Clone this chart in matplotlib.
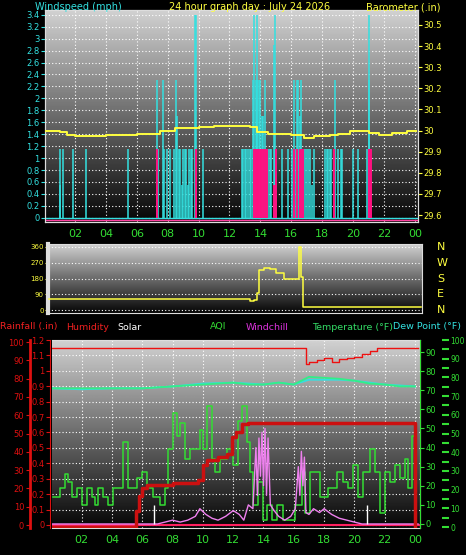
import numpy as np
import matplotlib
matplotlib.use("Agg")
import matplotlib.pyplot as plt

W, H = 466, 555
hours = [2, 4, 6, 8, 10, 12, 14, 16, 18, 20, 22, 24]
hour_labels = ["02", "04", "06", "08", "10", "12", "14", "16", "18", "20", "22", "00"]

wind_t = [1.0, 1.05, 1.25, 1.9, 2.7, 5.45, 7.3, 7.35, 7.7, 7.75, 7.95, 8.15, 8.4, 8.55, 8.6, 8.7, 8.8,
          8.9, 9.0, 9.1, 9.2, 9.3, 9.4, 9.5, 9.6, 9.8, 9.85, 10.3,
          12.8, 12.9, 13.0, 13.1, 13.2, 13.3, 13.4, 13.5, 13.6, 13.7, 13.75, 13.8, 13.9, 14.0, 14.1,
          14.2, 14.3, 14.4, 14.5, 14.6, 14.7, 14.9, 14.95, 15.0, 15.4, 15.8,
          16.05, 16.15, 16.25, 16.35, 16.45, 16.55, 16.65, 16.75, 16.85, 16.95, 17.05, 17.2, 17.35,
          17.5, 18.2, 18.3, 18.4, 18.5, 18.6, 18.8, 19.0, 19.2, 19.25, 20.0, 20.3, 20.9, 21.0, 21.05]
wind_s = [0.55, 1.15, 1.15, 1.15, 1.15, 1.15, 2.3, 1.15, 2.3, 1.15, 1.15, 1.15, 1.15, 2.3, 1.7, 1.15, 1.15,
          0.55, 1.15, 1.15, 1.15, 0.55, 1.15, 1.15, 1.15, 3.4, 3.4, 1.15,
          1.15, 1.15, 1.15, 1.15, 1.15, 1.15, 1.15, 2.3, 3.4, 2.3, 3.4, 2.3, 2.3, 2.3, 1.7,
          1.7, 2.3, 1.15, 1.15, 1.15, 1.15, 2.9, 3.4, 1.15, 1.15, 1.15,
          1.15, 2.3, 1.15, 2.3, 2.3, 1.7, 2.3, 1.15, 1.15, 1.15, 1.15, 1.15, 0.55,
          1.15, 1.15, 1.15, 1.15, 1.15, 1.15, 2.3, 1.15, 1.15, 1.15, 1.15, 1.15, 1.15, 3.4, 2.3]
gust_t = [7.33, 9.85, 13.6, 13.7, 13.75, 13.85, 13.95, 14.05, 14.15, 14.3, 14.45, 14.9, 15.0,
          16.2, 16.35, 16.55, 16.65, 16.75, 18.75, 21.05, 21.1, 21.15]
gust_s = [1.15, 1.15, 1.15, 1.15, 1.15, 1.15, 1.15, 1.15, 1.15, 1.15, 1.15, 0.55, 1.15,
          1.15, 1.15, 1.15, 1.15, 1.15, 1.15, 1.15, 1.15, 1.15]

baro_t = [0.1, 1.0, 1.5, 2.0, 4.0, 6.0, 7.5, 8.5, 10.0, 11.0, 12.0, 13.3, 13.8, 14.5, 16.0, 16.8,
          17.5, 18.5, 19.0, 19.8, 20.5, 21.0, 21.7, 22.5, 23.5, 24.1]
baro_v = [30.0, 29.995, 29.98, 29.975, 29.98, 29.985, 30.0, 30.01, 30.015, 30.02, 30.02, 30.015, 29.995,
          29.985, 29.98, 29.965, 29.975, 29.98, 29.985, 30.0, 30.0, 29.99, 29.98, 29.99, 30.0, 30.0]

dir_t = [0.3, 13.3, 13.6, 13.75, 13.9, 14.2, 14.6, 15.0, 15.5, 16.4, 16.5, 16.6, 16.75, 18.8, 24.4]
dir_v = [65, 50, 55, 100, 230, 240, 235, 210, 175, 175, 360, 190, 20, 15, 15]

rain_t = [0.05, 5.5, 5.6, 5.8, 6.0, 6.3, 8.0, 9.7, 10.0, 10.3, 11.0, 11.6, 11.9, 12.2, 12.6, 13.0, 23.9, 24.0]
rain_v = [0.0, 0.0, 0.1, 0.2, 0.25, 0.27, 0.28, 0.3, 0.4, 0.43, 0.45, 0.47, 0.58, 0.61, 0.66, 0.67, 0.67, 0.0]

hum_t = [0.05, 16.3, 16.8, 17.0, 17.5, 18.0, 18.5, 19.0, 19.5, 20.0, 20.5, 21.0, 21.5, 24.2]
hum_v = [97, 97, 88, 89, 90, 91.5, 89, 90.5, 91, 92, 93.5, 95, 96.5, 97]

temp_t = [0.05, 2.0, 4.0, 6.0, 8.0, 10.0, 12.0, 13.0, 14.0, 15.0, 16.0, 17.0, 18.0, 19.0, 20.0, 21.0, 22.0, 23.0, 24.0]
temp_v = [71, 71, 71, 71, 72, 73, 74, 73, 73, 74, 73, 77, 76.5, 76, 75, 73.5, 73, 72, 72]
dew_v = [71, 70.5, 71, 71, 72, 73.5, 74, 73.5, 73, 74, 73, 75.5, 75.5, 75.5, 75, 74, 73, 72.5, 72]

aqi_t = [0.11, 0.55, 0.89, 1.1, 1.34, 1.67, 2.0, 2.33, 2.66, 2.88, 3.1, 3.43, 3.76, 4.09, 4.75, 5.08,
         5.63, 5.96, 6.29, 6.73, 7.17, 7.5, 7.72, 8.05, 8.27, 8.49, 8.82, 9.15, 9.81, 10.03, 10.25,
         10.58, 10.8, 11.13, 11.57, 12.01, 12.34, 12.56, 12.89, 13.11, 13.33, 13.66, 13.99, 14.21,
         14.54, 14.87, 15.31, 16.08, 16.52, 16.74, 17.07, 17.73, 18.28, 18.83, 19.27, 19.6, 19.93,
         20.26, 20.59, 21.03, 21.36, 21.69, 22.02, 22.35, 22.68, 23.01, 23.34, 23.56, 23.78, 24.0]
aqi_v = [14, 19, 26, 22, 14, 19, 10, 19, 14, 10, 19, 14, 10, 19, 43, 19,
         24, 27, 19, 14, 10, 19, 39, 58, 46, 53, 34, 39, 49, 39, 62,
         34, 27, 34, 39, 31, 54, 62, 43, 27, 10, 22, 2, 10,
         2, 10, 2, 10, 27, 6, 27, 14, 19, 27, 22, 19, 31,
         14, 27, 39, 27, 6, 27, 22, 31, 24, 34, 19, 46, 27]

pink_t = [0.05, 7.0, 8.0, 8.5, 9.0, 9.5, 9.8, 10.2, 10.6, 11.0, 11.5, 12.0, 12.4, 12.7, 13.0, 13.3,
          13.5, 13.6, 13.7, 13.8, 13.9, 14.0, 14.1, 14.2, 14.3, 14.45, 14.7, 15.0, 15.4, 15.8, 16.1,
          16.3, 16.4, 16.5, 16.6, 16.7, 16.8, 17.0, 17.3, 17.7, 18.0, 18.5, 19.0, 19.5, 20.0, 20.5, 24.2]
pink_v = [0, 0, 2, 1, 2, 4, 8, 5, 3, 2, 4, 7, 5, 2, 10, 8,
          40, 15, 45, 25, 48, 20, 50, 15, 45, 10, 7, 4, 2, 4, 8,
          30, 15, 38, 20, 35, 6, 5, 8, 6, 8, 5, 3, 2, 1, 0, 0]

fig = plt.figure(figsize=(W / 100, H / 100), dpi=100, facecolor="black")

def rect(x0, y0, x1, y1):
    return [x0 / W, 1 - y1 / H, (x1 - x0) / W, (y1 - y0) / H]

grad = np.linspace(0.82, 0.02, 256).reshape(-1, 1)

def background(ax):
    ax.set_facecolor("black")
    ax.imshow(grad, cmap="gray", vmin=0, vmax=1, aspect="auto", extent=[0, 1, 0, 1],
              transform=ax.transAxes, zorder=0)

def style(ax, col_left):
    ax.grid(True, color="white", ls=(0, (1, 2)), lw=0.8)
    for s in ax.spines.values():
        s.set_color("#dddddd")
    ax.tick_params(axis="x", bottom=False, labelbottom=False)
    ax.tick_params(axis="y", colors=col_left, labelsize=6, length=3, pad=1)

CYAN = "#33e0e0"
YEL = "#ffff40"
GRN = "#33dd33"

# ---------- top panel ----------
ax1 = fig.add_axes(rect(45, 10, 418, 222))
background(ax1)
ax1.set_xlim(0.06, 24.2)
ax1.set_ylim(-0.07, 3.48)
ax1.set_yticks(np.round(np.arange(0, 3.41, 0.2), 1))
ax1.set_yticklabels(["0", "0.2", "0.4", "0.6", "0.8", "1", "1.2", "1.4", "1.6", "1.8", "2", "2.2",
                     "2.4", "2.6", "2.8", "3", "3.2", "3.4"])
ax1.set_xticks(hours)
style(ax1, CYAN)
ax1.vlines(wind_t, 0, wind_s, color=CYAN, lw=1.1, zorder=3)
ax1.vlines(gust_t, 0, gust_s, color="#ff1080", lw=1.4, zorder=4)
ax1.axhline(0, color=CYAN, lw=1, zorder=3)
ax1.axhline(-0.04, color="#ff40a0", lw=1, zorder=3)
ax1b = ax1.twinx()
ax1b.set_ylim(29.567, 30.571)
ax1b.set_yticks([29.6, 29.7, 29.8, 29.9, 30.0, 30.1, 30.2, 30.3, 30.4, 30.5])
ax1b.set_yticklabels(["29.6", "29.7", "29.8", "29.9", "30", "30.1", "30.2", "30.3", "30.4", "30.5"])
ax1b.tick_params(axis="y", colors=YEL, labelsize=6, length=3, pad=1)
for s in ax1b.spines.values():
    s.set_color("#dddddd")
ax1b.step(baro_t, baro_v, where="post", color=YEL, lw=1.4, zorder=5)

fig.text(35 / W, 1 - 7 / H, "Windspeed (mph)", color=CYAN, fontsize=7, va="center")
fig.text(250 / W, 1 - 7 / H, "24 hour graph day : July 24 2026", color=YEL, fontsize=7,
         va="center", ha="center")
fig.text(440 / W, 1 - 7 / H, "Barometer (.in)", color=YEL, fontsize=7, va="center", ha="right")

for h, lab in zip(hours, hour_labels):
    x = 75 + (h - 2) * 15.45
    fig.text(x / W, 1 - 234 / H, lab, color=GRN, fontsize=8, ha="center", va="center")

# ---------- direction panel ----------
ax2 = fig.add_axes(rect(48, 244, 422, 313))
background(ax2)
ax2.set_xlim(0.25, 24.46)
ax2.set_ylim(-17, 377)
ax2.set_yticks([0, 90, 180, 270, 360])
ax2.set_xticks([])
ax2.grid(True, axis="y", color="white", ls=(0, (1, 2)), lw=0.8)
for s in ax2.spines.values():
    s.set_color("#dddddd")
ax2.spines["left"].set_linewidth(3)
ax2.tick_params(axis="y", colors=YEL, labelsize=5, length=2, pad=1)
ax2.step(dir_t, dir_v, where="post", color=YEL, lw=1.1, zorder=3)
for lab, v in zip(["N", "W", "S", "E", "N"], [360, 270, 180, 90, 0]):
    y = 310 - v / 90 * 15.75
    fig.text(437 / W, 1 - y / H, lab, color=YEL, fontsize=8, ha="left", va="center")

# ---------- legend row ----------
legend = [("Rainfall (.in)", "#ee2020", 0), ("Humidity", "#ee2020", 66), ("Solar", "white", 117),
          ("AQI", GRN, 210), ("Windchill", "#dd33dd", 246), ("Temperature (°F)", "#33dd66", 312),
          ("Dew Point (°F)", CYAN, 393)]
for lab, c, x in legend:
    fig.text(x / W, 1 - 327 / H, lab, color=c, fontsize=6.8, va="center")

# ---------- bottom panel ----------
ax3 = fig.add_axes(rect(52, 340, 420, 528))
background(ax3)
ax3.set_xlim(0.04, 24.33)
ax3.set_ylim(-0.02, 1.2)
ax3.set_xticks(hours)
ax3.set_yticks(np.round(np.arange(0, 1.21, 0.1), 1))
ax3.set_yticklabels(["0", "0.1", "0.2", "0.3", "0.4", "0.5", "0.6", "0.7", "0.8", "0.9", "1", "1.1", "1.2"])
style(ax3, "#dd1010")
ax3.spines["left"].set_color("#dd1010")
ax3.spines["left"].set_position(("outward", 1.5))

axh = ax3.twinx()
axh.set_ylim(-1.6, 101.1)
axh.yaxis.set_ticks_position("left")
axh.yaxis.set_label_position("left")
axh.spines["left"].set_position(("outward", 16))
axh.spines["left"].set_color("#dd1010")
axh.spines["left"].set_linewidth(2)
for s in ["right", "top", "bottom"]:
    axh.spines[s].set_visible(False)
axh.set_yticks(range(0, 101, 10))
axh.tick_params(axis="y", colors="#dd1010", labelsize=6, length=3, pad=1)

axt = ax3.twinx()
axt.set_ylim(-2.1, 96.3)
axt.set_yticks(range(0, 91, 10))
axt.tick_params(axis="y", colors=GRN, labelsize=6, length=3, pad=1)
for s in axt.spines.values():
    s.set_visible(False)
axt.spines["right"].set_visible(True)
axt.spines["right"].set_color(GRN)

axf = ax3.twinx()
axf.set_ylim(-0.5, 100)
axf.spines["right"].set_position(("outward", 16))
for s in axf.spines.values():
    s.set_visible(False)
axf.set_yticks(range(0, 101, 10))
axf.set_yticks(range(0, 101, 5), minor=True)
axf.tick_params(axis="y", which="both", colors=GRN, labelsize=5.5, length=5, width=1.5, pad=1)

axt.step(aqi_t, aqi_v, where="post", color=GRN, lw=1.1, zorder=3)
axt.plot(pink_t, pink_v, color="#ee80ee", lw=1, zorder=4)
axt.plot(temp_t, dew_v, color=CYAN, lw=1.3, zorder=4)
axt.plot(temp_t, temp_v, color="#33ee88", lw=1.3, zorder=4)
axt.vlines([6.75, 20.85], 0, 10, color="white", lw=1, zorder=4)
axh.step(hum_t, hum_v, where="post", color="#ee1010", lw=1, zorder=5)
axf.step(rain_t, [v / 1.2 * 100 for v in rain_v], where="post", color="#cc1010", lw=2.5, zorder=6)
ax3.axhline(0, color="#ff2060", lw=1.5, zorder=5)

for h, lab in zip(hours, hour_labels):
    x = 81.7 + (h - 2) * 15.15
    fig.text(x / W, 1 - 540 / H, lab, color=GRN, fontsize=8, ha="center", va="center")

fig.savefig("out.png", dpi=100, facecolor="black")
